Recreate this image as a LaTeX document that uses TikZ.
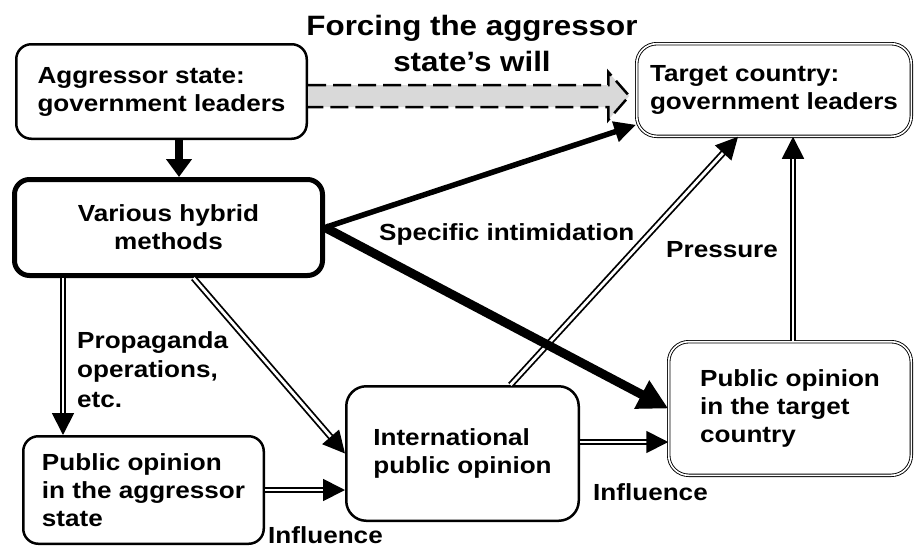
\documentclass[tikz,border=0pt]{standalone}
\usepackage{fontspec}
\setmainfont{Liberation Sans}[FakeStretch=1.12]
\usetikzlibrary{arrows.meta,calc}
\tikzset{box/.style={draw,line width=2.5pt,rounded corners=15pt,align=left,inner sep=0pt,fill=white},dblbox/.style={box,line width=0.9pt,double,double distance=1.6pt,rounded corners=20pt},hybrid/.style={box,line width=5pt,align=center},dblarrow/.style={-{Triangle[length=22pt,width=22pt]},line width=1.8pt,double,double distance=2.8pt},lbl/.style={inner sep=0pt,align=left},body/.style={font=\fontsize{23.3pt}{28pt}\selectfont\bfseries}}

\begin{document}
\begin{tikzpicture}[x=1pt,y=1pt,body]
\useasboundingbox (0,0) rectangle (916,-547);
\node[box,minimum width=290.5pt,minimum height=94.5pt] (aggr) at (161.5,-91.5) {Aggressor state:\\government leaders};
\node[dblbox,minimum width=274.6pt,minimum height=92.6pt] (tgt) at (774,-90) {Target country:\\government leaders};
\node[hybrid,minimum width=308pt,minimum height=96pt] (hyb) at (168.5,-227.5) {Various hybrid\\methods};
\node[box,minimum width=240.5pt,minimum height=107.5pt] (pubaggr) at (143.5,-490) {Public opinion\\in the aggressor\\state};
\node[box,rounded corners=20pt,minimum width=232.5pt,minimum height=134.5pt] (intl) at (462.5,-453.5) {International\\public opinion};
\node[dblbox,minimum width=242.6pt,minimum height=133.6pt] (pubtgt) at (790,-408.5) {Public opinion\\in the target\\country};
\node[lbl,align=center,font=\fontsize{28pt}{36.5pt}\selectfont\bfseries] (force) at (472,-43.3) {Forcing the aggressor\\state's will};
\node[lbl,anchor=base west] (intim) at (379,-240) {Specific intimidation};
\node[lbl,anchor=base west] (presslbl) at (666,-257) {Pressure};
\node[lbl,anchor=north west,font=\fontsize{23.3pt}{29.5pt}\selectfont\bfseries] (propalbl) at (77,-331) {Propaganda\\operations,\\etc.};
\node[lbl,anchor=base west] (infla) at (268,-543) {Influence};
\node[lbl,anchor=base west] (inflb) at (593,-500) {Influence};
\coordinate (fs) at ([yshift=-4.5pt]aggr.east);
\coordinate (fe) at (fs -| tgt.west);
\fill[black!15] ($(fs)+(0,11)$) -- ($(fe)+(-28,11)$) -- ($(fe)+(-28,24)$) -- ($(fe)+(-7,0)$) -- ($(fe)+(-28,-24)$) -- ($(fe)+(-28,-11)$) -- ($(fs)+(0,-11)$) -- cycle;
\draw[line width=2.5pt,dash pattern=on 18pt off 7pt] ($(fs)+(0,11)$) -- ($(fe)+(-28,11)$) -- ($(fe)+(-28,24)$) -- ($(fe)+(-7,0)$) -- ($(fe)+(-28,-24)$) -- ($(fe)+(-28,-11)$) -- ($(fs)+(0,-11)$);
\coordinate (agtop) at ([xshift=17.5pt]aggr.south);
\draw[line width=8pt,-{Triangle[length=18pt,width=25pt]}] (agtop) -- (agtop |- hyb.north);
\coordinate (propa) at ([xshift=51pt]hyb.south west);
\draw[dblarrow] (propa) -- (propa |- pubaggr.north);
\draw[dblarrow] ([xshift=25pt]hyb.south) -- (intl.west);
\draw[dblarrow] (pubaggr.east) -- (pubaggr.east -| intl.west);
\coordinate (infl) at ([yshift=11.5pt]intl.east);
\draw[dblarrow] (infl) -- (infl -| pubtgt.west);
\draw[dblarrow] ([xshift=48pt]intl.north) -- ([xshift=-36pt]tgt.south);
\coordinate (press) at ([xshift=3pt]pubtgt.north);
\draw[dblarrow] (press) -- (press |- tgt.south);
\draw[line width=5.5pt,-{Triangle[length=22pt,width=20pt]}] (hyb.east) -- ([yshift=12pt]tgt.south west);
\draw[line width=9pt,-{Triangle[length=30pt,width=30pt]}] (hyb.east) -- (pubtgt.west);
\end{tikzpicture}
\end{document}
